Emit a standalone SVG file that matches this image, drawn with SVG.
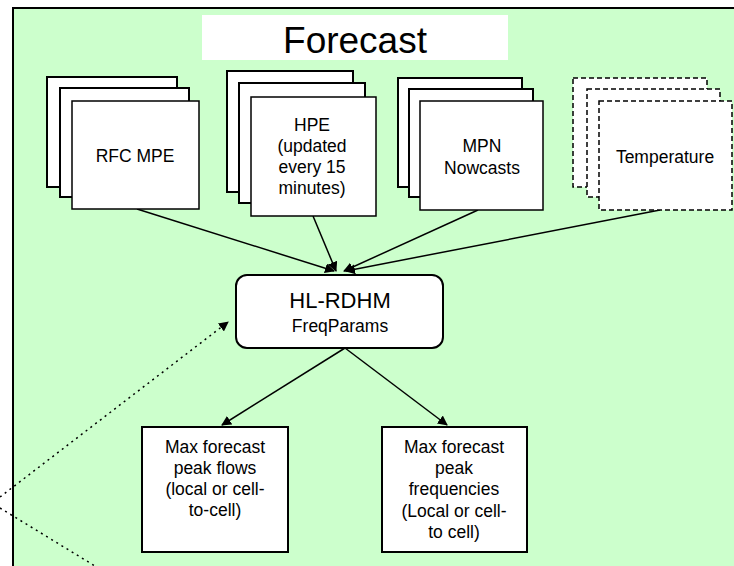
<svg xmlns="http://www.w3.org/2000/svg" width="734" height="566" viewBox="0 0 734 566">
<style>
.bg{fill:#ccffcc}
.frame{stroke:#000;stroke-width:2;fill:none}
.doc{fill:#fff;stroke:#000;stroke-width:2}
.docf{fill:#fff;stroke:#000;stroke-width:1.5}
.dash{fill:#fff;stroke:#000;stroke-width:1.5;stroke-dasharray:5,3}
.box{fill:#fff;stroke:#000;stroke-width:2}
.t{font-family:"Liberation Sans",Arial,sans-serif;font-size:17.5px;fill:#000;text-anchor:middle}
.title{font-family:"Liberation Sans",Arial,sans-serif;font-size:37px;fill:#000;text-anchor:middle}
.conn{stroke:#000;stroke-width:1.5;fill:none}
.dot{stroke:#000;stroke-width:1.5;fill:none;stroke-dasharray:2,4}
</style>
<defs>
<marker id="ah2" viewBox="0 0 10 10" refX="9" refY="5" markerWidth="10" markerHeight="10" orient="auto" markerUnits="userSpaceOnUse">
<path d="M0,0 L10,5 L0,10 z" fill="#000"/>
</marker>
</defs>
<rect x="0" y="0" width="734" height="566" fill="#fff"/>
<rect class="bg" x="13" y="8" width="721" height="558"/>
<path class="frame" d="M13,566 L13,8 L734,8"/>

<g id="title">
<rect x="202" y="15" width="306" height="45" fill="#fff"/>
<text class="title" x="355" y="53">Forecast</text>
</g>

<g id="connectors">
<line class="conn" x1="137" y1="209" x2="334" y2="271" marker-end="url(#ah2)"/>
<line class="conn" x1="313" y1="216" x2="336" y2="271" marker-end="url(#ah2)"/>
<line class="conn" x1="478" y1="210" x2="344" y2="271" marker-end="url(#ah2)"/>
<line class="conn" x1="660" y1="210" x2="346" y2="271" marker-end="url(#ah2)"/>
<line class="conn" x1="345" y1="348" x2="222" y2="425" marker-end="url(#ah2)"/>
<line class="conn" x1="345" y1="348" x2="447" y2="425" marker-end="url(#ah2)"/>
<line class="dot" x1="0" y1="497" x2="228" y2="322" marker-end="url(#ah2)"/>
<line class="dot" x1="0" y1="508" x2="95" y2="566"/>
</g>

<g id="rfc-mpe">
<rect class="doc" x="47" y="77" width="130" height="110"/>
<rect class="doc" x="60" y="88" width="129" height="109"/>
<rect class="docf" x="72" y="101" width="127" height="108"/>
<text class="t" x="135" y="162">RFC MPE</text>
</g>

<g id="hpe">
<rect class="doc" x="227" y="71" width="126" height="121"/>
<rect class="doc" x="239" y="83" width="126" height="120"/>
<rect class="docf" x="251" y="97" width="125" height="119"/>
<text class="t" x="312" y="131">HPE</text>
<text class="t" x="312" y="152">(updated</text>
<text class="t" x="312" y="173">every 15</text>
<text class="t" x="312" y="194">minutes)</text>
</g>

<g id="mpn">
<rect class="doc" x="398" y="78" width="124" height="109"/>
<rect class="doc" x="409" y="89" width="124" height="108"/>
<rect class="docf" x="420" y="101" width="123" height="109"/>
<text class="t" x="482" y="152">MPN</text>
<text class="t" x="482" y="174">Nowcasts</text>
</g>

<g id="temperature">
<rect class="dash" x="573" y="78" width="134" height="109"/>
<rect class="dash" x="587" y="89" width="133" height="108"/>
<rect class="dash" x="599" y="101" width="133" height="109"/>
<text class="t" x="665" y="163">Temperature</text>
</g>

<g id="hl-rdhm">
<rect class="box" x="236" y="275" width="207" height="73" rx="11" ry="11"/>
<text class="t" x="340" y="308" style="font-size:22px">HL-RDHM</text>
<text class="t" x="340" y="332">FreqParams</text>
</g>

<g id="peak-flows">
<rect class="box" x="142" y="427" width="146" height="125"/>
<text class="t" x="215" y="453">Max forecast</text>
<text class="t" x="215" y="474">peak flows</text>
<text class="t" x="215" y="495">(local or cell-</text>
<text class="t" x="215" y="516">to-cell)</text>
</g>

<g id="peak-freq">
<rect class="box" x="382" y="427" width="145" height="125"/>
<text class="t" x="454" y="453">Max forecast</text>
<text class="t" x="454" y="474">peak</text>
<text class="t" x="454" y="495">frequencies</text>
<text class="t" x="454" y="517">(Local or cell-</text>
<text class="t" x="454" y="538">to cell)</text>
</g>
</svg>
